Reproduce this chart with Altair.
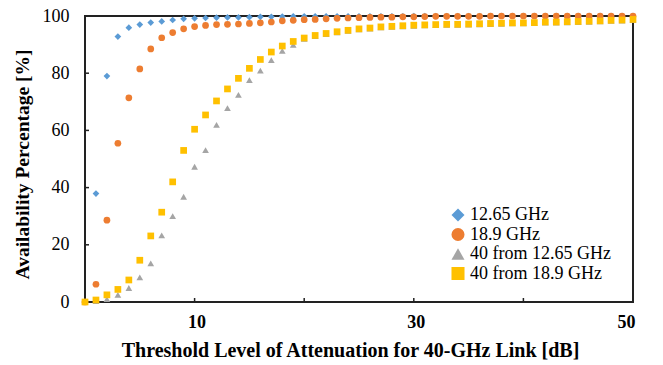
import altair as alt
import pandas as pd

x_vals = list(range(0, 51))

series_names = ["12.65 GHz", "18.9 GHz", "40 from 12.65 GHz", "40 from 18.9 GHz"]
series_colors = ["#5B9BD5", "#ED7D31", "#A5A5A5", "#FFC000"]
series_shapes = ["diamond", "circle", "triangle-up", "square"]

blue_1265 = [0, 37.9, 79.0, 92.8, 95.9, 97.0, 97.7, 98.1, 98.6, 99.0,
             99.2, 99.3, 99.4, 99.5, 99.5, 99.6, 99.7, 99.7, 99.8, 99.9,
             99.9, 99.9, 99.9, 99.9, 99.9, 99.9, 99.9, 99.9, 99.9, 99.9,
             100, 100, 100, 100, 100, 100, 100, 100, 100, 100,
             100, 100, 100, 100, 100, 100, 100, 100, 100, 100, 100]

orange_189 = [0, 6.2, 28.6, 55.5, 71.4, 81.5, 88.5, 92.4, 94.2, 95.5,
              96.3, 96.7, 97.0, 97.1, 97.2, 97.4, 97.6, 97.9, 98.3, 98.5,
              98.7, 98.8, 99.0, 99.2, 99.3, 99.4, 99.5, 99.6, 99.6, 99.7,
              99.7, 99.8, 99.9, 99.9, 99.9, 99.9, 99.9, 100, 100, 100,
              100, 100, 100, 100, 100, 100, 100, 100, 100, 100, 100]

gray_40_1265 = [0, 0.3, 1.0, 2.5, 4.9, 8.6, 13.5, 23.3, 30.0, 36.8,
                47.3, 53.1, 61.9, 67.8, 72.4, 77.6, 80.9, 84.6, 87.8, 89.9,
                92.0, 93.0, 93.7, 94.3, 94.8, 95.3, 95.6, 96.0, 96.2, 96.4,
                96.6, 96.7, 96.8, 96.9, 96.9, 97.0, 97.1, 97.2, 97.3, 97.4,
                97.4, 97.5, 97.7, 97.7, 97.8, 97.9, 98.0, 98.1, 98.3, 98.4, 98.6]

yellow_40_189 = [0, 0.7, 2.5, 4.4, 7.7, 14.6, 23.1, 31.4, 42.0, 53.0,
                 60.4, 65.4, 70.3, 74.5, 78.2, 81.7, 84.8, 87.4, 89.5, 91.1,
                 92.3, 93.2, 93.9, 94.5, 95.0, 95.5, 95.8, 96.2, 96.4, 96.6,
                 96.8, 96.9, 97.0, 97.1, 97.1, 97.2, 97.3, 97.4, 97.5, 97.6,
                 97.6, 97.7, 97.9, 97.9, 98.0, 98.1, 98.2, 98.3, 98.5, 98.6, 98.8]

x_ticks = [10, 20, 30, 40]
x_labels = [10, 30, 50]
y_ticks = [20, 40, 60, 80]
y_labels = [0, 20, 40, 60, 80, 100]

rows = []
for name, vals in zip(series_names, [blue_1265, orange_189, gray_40_1265, yellow_40_189]):
    for xv, yv in zip(x_vals, vals):
        rows.append({"x": xv, "y": yv, "series": name})
df = pd.DataFrame(rows)

W, H = 548, 286
FONT = "Liberation Serif"

xscale = alt.Scale(domain=[0, 50], nice=False)
yscale = alt.Scale(domain=[0, 100], nice=False)

legend_kw = dict(title=None, orient="none", legendX=364, legendY=190,
                 labelFont=FONT, labelFontSize=18, labelColor="black",
                 symbolSize=170, labelOffset=3, rowPadding=1.5,
                 symbolStrokeWidth=0)

points = alt.Chart(df).mark_point(filled=True, size=45, opacity=1, clip=False).encode(
    x=alt.X("x:Q", scale=xscale,
            axis=alt.Axis(values=x_labels, title="Threshold Level of Attenuation for 40-GHz Link [dB]",
                          labelFontWeight="bold", labelFontSize=18, labelFont=FONT, labelColor="black",
                          labelPadding=11, labelOffset=2, ticks=False, domain=False, grid=False,
                          titleFont=FONT, titleFontSize=20, titleFontWeight="bold", titleColor="black",
                          titlePadding=9, titleX=265)),
    y=alt.Y("y:Q", scale=yscale,
            axis=alt.Axis(values=y_labels, title="Availability Percentage [%]",
                          labelFontSize=18, labelFont=FONT, labelColor="black", labelPadding=16,
                          ticks=False, domain=False, grid=False,
                          titleFont=FONT, titleFontSize=19.5, titleFontWeight="bold", titleColor="black",
                          titlePadding=10, titleY=148)),
    color=alt.Color("series:N", scale=alt.Scale(domain=series_names, range=series_colors),
                    legend=alt.Legend(**legend_kw)),
    shape=alt.Shape("series:N", scale=alt.Scale(domain=series_names, range=series_shapes),
                    legend=alt.Legend(**legend_kw)),
    order=alt.Order("ord:Q"),
).transform_calculate(
    ord="indexof(" + str(series_names).replace("'", '"') + ", datum.series)"
)

xt = alt.Chart(pd.DataFrame({"t": x_ticks})).mark_rule(color="#222222", strokeWidth=1.5).encode(
    x=alt.X("t:Q", scale=xscale), y=alt.value(H), y2=alt.value(H - 4))
yt = alt.Chart(pd.DataFrame({"t": y_ticks})).mark_rule(color="#222222", strokeWidth=1.5).encode(
    y=alt.Y("t:Q", scale=yscale), x=alt.value(0), x2=alt.value(4))

chart = alt.layer(xt, yt, points).properties(
    width=W, height=H,
    autosize=alt.AutoSizeParams(type="none"),
    padding={"left": 85, "top": 16, "right": 30, "bottom": 63},
    background="white",
).configure_view(stroke="#222222", strokeWidth=2)

chart.save("out.html", embed_options={"renderer": "svg", "actions": False})
